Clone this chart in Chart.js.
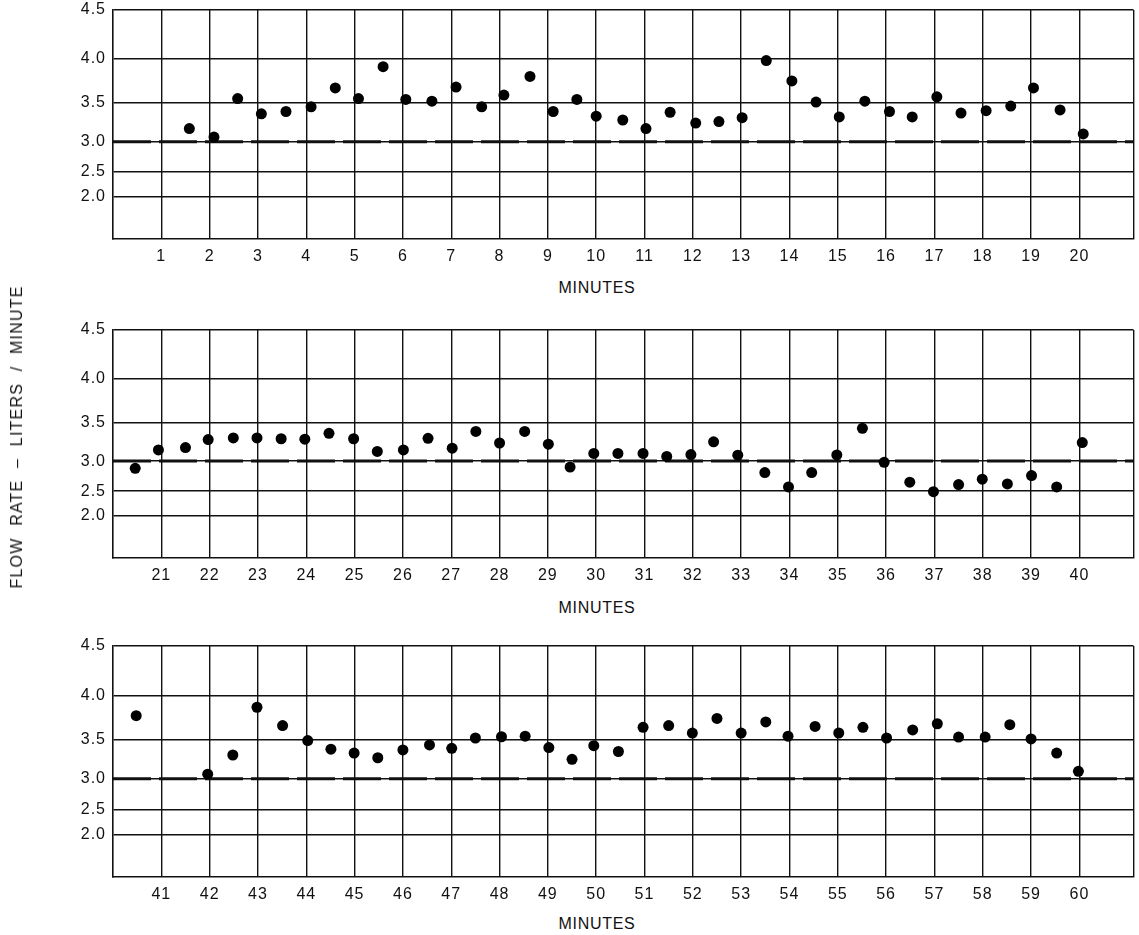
<!DOCTYPE html>
<html>
<head>
<meta charset="utf-8">
<script src="https://cdn.jsdelivr.net/npm/chart.js@4.4.1/dist/chart.umd.min.js"></script>
<style>
html, body { margin: 0; padding: 0; background: #fff; width: 1139px; height: 935px; overflow: hidden; }
canvas { position: absolute; left: 0; }
.txt { position: absolute; white-space: nowrap; color: #111; font-family: "Liberation Sans", Arial, sans-serif; }
#ytitle {
  left: 17px; top: 437px; font-size: 16px;
  transform: translate(-50%, -50%) rotate(-90deg);
  letter-spacing: 1.2px; word-spacing: 6px;
}
.xtitle { left: 597px; font-size: 16px; letter-spacing: 0.7px; transform: translate(-50%, -50%); }
</style>
</head>
<body>
<canvas id="panel1"></canvas>
<canvas id="panel2"></canvas>
<canvas id="panel3"></canvas>
<div id="ytitle" class="txt">FLOW RATE – LITERS / MINUTE</div>
<div class="txt xtitle" style="top:287.5px">MINUTES</div>
<div class="txt xtitle" style="top:608.3px">MINUTES</div>
<div class="txt xtitle" style="top:923.8px">MINUTES</div>
<script>
// ---------------- data ----------------
const Y_TICKS = [2.0, 2.5, 3.0, 3.5, 4.0, 4.5];
const REFERENCE_RATE = 3.0;

const minuteTicks1 = [1, 2, 3, 4, 5, 6, 7, 8, 9, 10, 11, 12, 13, 14, 15, 16, 17, 18, 19, 20];
const minuteTicks2 = [21, 22, 23, 24, 25, 26, 27, 28, 29, 30, 31, 32, 33, 34, 35, 36, 37, 38, 39, 40];
const minuteTicks3 = [41, 42, 43, 44, 45, 46, 47, 48, 49, 50, 51, 52, 53, 54, 55, 56, 57, 58, 59, 60];

const minutes1 = [1.58, 2.09, 2.58, 3.07, 3.58, 4.10, 4.60, 5.08, 5.59, 6.06, 6.60, 7.10, 7.63,
  8.09, 8.63, 9.11, 9.60, 10.00, 10.55, 11.03, 11.53, 12.06, 12.54, 13.02, 13.52, 14.05, 14.55,
  15.03, 15.56, 16.07, 16.54, 17.05, 17.55, 18.07, 18.58, 19.05, 19.60, 20.08];
const flow1 = [3.17, 3.06, 3.55, 3.36, 3.39, 3.45, 3.67, 3.55, 3.91, 3.54, 3.52, 3.68, 3.45,
  3.59, 3.80, 3.39, 3.54, 3.33, 3.28, 3.17, 3.38, 3.24, 3.26, 3.31, 3.98, 3.75, 3.51,
  3.32, 3.52, 3.39, 3.32, 3.57, 3.37, 3.40, 3.46, 3.67, 3.41, 3.10];

const minutes2 = [20.46, 20.94, 21.50, 21.97, 22.49, 22.98, 23.48, 23.97, 24.47, 24.98,
  25.47, 26.01, 26.52, 27.02, 27.51, 28.00, 28.52, 29.01, 29.46, 29.95,
  30.45, 30.97, 31.46, 31.96, 32.43, 32.93, 33.49, 33.98, 34.46, 34.98,
  35.51, 35.96, 36.49, 36.98, 37.50, 37.99, 38.51, 39.01, 39.53, 40.06];
const flow2 = [2.88, 3.145, 3.175, 3.28, 3.30, 3.30, 3.29, 3.285, 3.36, 3.29,
  3.125, 3.145, 3.295, 3.167, 3.385, 3.235, 3.385, 3.22, 2.90, 3.10,
  3.10, 3.10, 3.06, 3.085, 3.25, 3.077, 2.81, 2.57, 2.81, 3.08,
  3.425, 2.98, 2.65, 2.49, 2.61, 2.70, 2.62, 2.76, 2.57, 3.24];

const minutes3 = [40.48, 41.96, 42.48, 42.98, 43.51, 44.03, 44.51, 44.99, 45.48,
  46.00, 46.55, 47.01, 47.50, 48.04, 48.53, 49.02, 49.50, 49.95, 50.46, 50.97,
  51.50, 51.99, 52.50, 53.00, 53.51, 53.97, 54.53, 55.02, 55.52, 56.01,
  56.55, 57.06, 57.50, 58.05, 58.56, 59.00, 59.53, 59.98];
const flow3 = [3.77, 3.06, 3.305, 3.865, 3.66, 3.49, 3.38, 3.33, 3.27,
  3.37, 3.434, 3.39, 3.52, 3.534, 3.54, 3.40, 3.25, 3.425, 3.35, 3.64,
  3.66, 3.575, 3.74, 3.575, 3.70, 3.54, 3.65, 3.576, 3.64, 3.52,
  3.61, 3.68, 3.53, 3.53, 3.67, 3.51, 3.33, 3.096];

// ---------------- non-linear flow-rate scale ----------------
// value -> fraction of the plot height measured from the bottom (shape of the original grid)
const Y_SHAPE = [[1.5, 0], [2.0, 0.185], [2.5, 0.293], [3.0, 0.425], [3.5, 0.594], [4.0, 0.787], [4.5, 1.0]];

class PiecewiseScale extends Chart.LinearScale {
  getPixelForValue(value) {
    const s = Y_SHAPE;
    let i = 1;
    while (i < s.length - 1 && value > s[i][0]) i++;
    const [v0, f0] = s[i - 1], [v1, f1] = s[i];
    const f = f0 + (value - v0) * (f1 - f0) / (v1 - v0);
    return this.getPixelForDecimal(f);
  }
  getValueForPixel(pixel) {
    const f = this.getDecimalForPixel(pixel);
    const s = Y_SHAPE;
    let i = 1;
    while (i < s.length - 1 && f > s[i][1]) i++;
    const [v0, f0] = s[i - 1], [v1, f1] = s[i];
    return v0 + (f - f0) * (v1 - v0) / (f1 - f0);
  }
}
PiecewiseScale.id = 'piecewise';
PiecewiseScale.defaults = Chart.LinearScale.defaults;
Chart.register(PiecewiseScale);

const spacingPlugin = {
  id: 'letterSpacing',
  beforeDraw(chart) { chart.ctx.letterSpacing = '1px'; }
};

const FONT = { family: '"Liberation Sans", Arial, sans-serif', size: 16 };
const INK = '#111';

function noEdgePadding(s) {
  s.paddingLeft = 0; s.paddingRight = 0; s.paddingTop = 0; s.paddingBottom = 0;
}

function makePanel(id, geom, minutes, flow, tickValues, xMin, xMax) {
  const canvas = document.getElementById(id);
  const canvasTop = geom.top - 10;
  const H = geom.bottom - canvasTop + 36;
  canvas.width = 1139;
  canvas.height = H;
  canvas.style.top = canvasTop + 'px';
  const axisH = H - (geom.bottom - canvasTop);

  new Chart(canvas, {
    type: 'scatter',
    data: {
      datasets: [
        {
          type: 'line',
          data: [{ x: xMin, y: REFERENCE_RATE }, { x: xMax, y: REFERENCE_RATE }],
          borderColor: INK, borderWidth: 3, borderDash: [38, 8],
          pointRadius: 0, order: 2
        },
        {
          data: minutes.map((m, i) => ({ x: m, y: flow[i] })),
          pointRadius: 5.5, pointHoverRadius: 5.5,
          backgroundColor: '#000', borderWidth: 0, order: 1
        }
      ]
    },
    options: {
      responsive: false, animation: false, devicePixelRatio: 1, events: [],
      layout: { padding: { top: 10, right: 3, left: 0, bottom: 0 } },
      plugins: { legend: { display: false }, tooltip: { enabled: false } },
      scales: {
        x: {
          type: 'linear', min: xMin, max: xMax,
          afterBuildTicks: s => { s.ticks = tickValues.concat([xMax]).map(v => ({ value: v })); },
          afterFit: s => { s.height = axisH; noEdgePadding(s); },
          ticks: {
            autoSkip: false, maxRotation: 0, minRotation: 0, padding: 8,
            color: INK, font: FONT,
            callback: v => tickValues.includes(v) ? String(v) : ''
          },
          grid: { color: INK, lineWidth: 1.4, drawTicks: false },
          border: { color: INK, width: 1.6 }
        },
        y: {
          type: 'piecewise', min: 1.5, max: 4.5,
          afterBuildTicks: s => { s.ticks = Y_TICKS.map(v => ({ value: v })); },
          afterFit: s => { s.width = 113; noEdgePadding(s); },
          ticks: {
            autoSkip: false, padding: 7, color: INK, font: FONT,
            callback: v => Number(v).toFixed(1)
          },
          grid: { color: INK, lineWidth: 1.4, drawTicks: false },
          border: { color: INK, width: 1.6 }
        }
      }
    },
    plugins: [spacingPlugin]
  });
}

makePanel('panel1', { top: 10, bottom: 239 }, minutes1, flow1, minuteTicks1, 0, 21.12);
makePanel('panel2', { top: 330, bottom: 558 }, minutes2, flow2, minuteTicks2, 20, 41.12);
makePanel('panel3', { top: 646, bottom: 877 }, minutes3, flow3, minuteTicks3, 40, 61.12);
</script>
</body>
</html>
